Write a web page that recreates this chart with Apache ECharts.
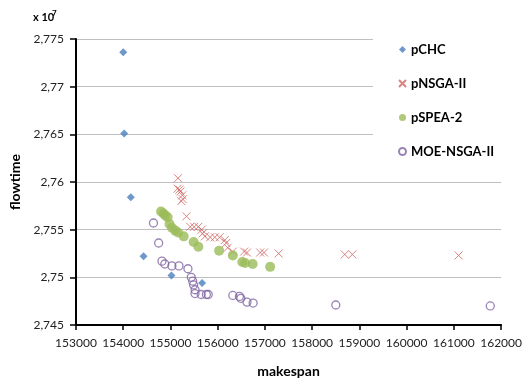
<!DOCTYPE html>
<html>
<head>
<meta charset="utf-8">
<script src="https://cdn.jsdelivr.net/npm/echarts@6/dist/echarts.min.js"></script>
<style>
  html, body { margin: 0; padding: 0; background: #fff; }
  #chart { width: 525px; height: 383px; }
</style>
</head>
<body>
<div id="chart"></div>
<script>
// Flowtime values are stored in thousands (27736 -> 2.7736 x 10^7).
const seriesNames = ['pCHC', 'pNSGA-II', 'pSPEA-2', 'MOE-NSGA-II'];

const pchcMakespan = [154000, 154020, 154160, 154430, 155020, 155670];
const pchcFlowtime = [27736, 27651, 27584, 27522, 27502, 27494];

const pnsgaMakespan = [155160, 155150, 155190, 155210, 155250, 155260, 155230, 155340, 155420, 155500,
                       155590, 155660, 155680, 155730, 155840, 155940, 156040, 156150, 156180, 156210,
                       156320, 156560, 156620, 156900, 156980, 157290, 158690, 158850, 161100];
const pnsgaFlowtime = [27604, 27593, 27592, 27590, 27586, 27582, 27580, 27564, 27553, 27553,
                       27553, 27550, 27546, 27543, 27542, 27542, 27542, 27539, 27536, 27531,
                       27527, 27527, 27526, 27526, 27526, 27525, 27524, 27524, 27523];

const pspeaMakespan = [154800, 154850, 154890, 154940, 154980, 155030, 155100, 155160, 155280, 155490,
                       155590, 156030, 156320, 156520, 156580, 156740, 157110];
const pspeaFlowtime = [27569, 27567, 27565, 27563, 27556, 27552, 27549, 27547, 27543, 27537,
                       27532, 27528, 27523, 27516, 27515, 27514, 27511];

const moeMakespan = [154640, 154750, 154820, 154880, 155030, 155180, 155370, 155440, 155470, 155490,
                     155520, 155520, 155650, 155760, 155800, 156320, 156460, 156490, 156620, 156750,
                     158500, 161770];
const moeFlowtime = [27557, 27536, 27517, 27514, 27512, 27512, 27509, 27500, 27496, 27492,
                     27487, 27483, 27482, 27482, 27482, 27481, 27480, 27478, 27474, 27473,
                     27471, 27470];

const xMin = 153000, xMax = 162000, xStep = 1000;
const yMin = 27450, yMax = 27750, yStep = 50;

function pairs(xs, ys) { return xs.map((x, i) => [x, ys[i]]); }

const FONT = 'Lato, "Open Sans", sans-serif';
const crossPath = 'path://M0,0L10,10M10,0L0,10';

const chart = echarts.init(document.getElementById('chart'), null, { renderer: 'canvas' });

chart.setOption({
  animation: false,
  backgroundColor: '#fff',
  grid: { left: 75, top: 39, width: 434, height: 295 },
  xAxis: {
    type: 'value',
    min: xMin, max: xMax, interval: xStep,
    name: 'makespan',
    nameLocation: 'middle',
    nameGap: 39,
    nameTextStyle: { fontFamily: FONT, fontWeight: 'bold', fontSize: 14, color: '#000' },
    axisLine: { show: true, onZero: false, lineStyle: { color: '#000', width: 2 } },
    axisTick: { show: true, inside: false, length: 5, lineStyle: { color: '#000', width: 1.5 } },
    axisLabel: { formatter: v => String(v), fontFamily: FONT, fontSize: 12, color: '#222', margin: 12 },
    splitLine: { show: false }
  },
  yAxis: {
    type: 'value',
    min: yMin, max: yMax, interval: yStep,
    name: 'flowtime',
    nameLocation: 'middle',
    nameGap: 54,
    nameRotate: 90,
    nameTextStyle: { fontFamily: FONT, fontWeight: 'bold', fontSize: 14, color: '#000' },
    axisLine: { show: true, onZero: false, lineStyle: { color: '#000', width: 2 } },
    axisTick: { show: true, inside: false, length: 6, lineStyle: { color: '#000', width: 1.5 } },
    axisLabel: {
      formatter: v => String(v / 10000).replace('.', ','),
      fontFamily: FONT, fontSize: 12, color: '#222', margin: 12
    },
    splitLine: { show: true, lineStyle: { color: '#BFBFBF', width: 1 } }
  },
  legend: {
    orient: 'vertical',
    left: 373, top: 30,
    backgroundColor: '#fff',
    padding: [13, 20, 14, 25],
    itemGap: 21,
    itemWidth: 7, itemHeight: 7,
    textStyle: { fontFamily: FONT, fontWeight: 'bold', fontSize: 13, color: '#000' },
    data: seriesNames
  },
  graphic: [
    { type: 'text', left: 33, top: 12, style: { text: 'x 10', fontFamily: FONT, fontWeight: 'bold', fontSize: 11, fill: '#000' } },
    { type: 'text', left: 52, top: 9, style: { text: '7', fontFamily: FONT, fontWeight: 'bold', fontSize: 8, fill: '#000' } }
  ],
  series: [
    {
      name: seriesNames[0], type: 'scatter',
      symbol: 'diamond', symbolSize: 8,
      itemStyle: { color: '#4A7EBB' },
      data: pairs(pchcMakespan, pchcFlowtime)
    },
    {
      name: seriesNames[1], type: 'scatter',
      symbol: crossPath, symbolSize: 8,
      itemStyle: { color: 'rgba(0,0,0,0)', borderColor: '#D06562', borderWidth: 1 },
      data: pairs(pnsgaMakespan, pnsgaFlowtime)
    },
    {
      name: seriesNames[2], type: 'scatter',
      symbol: 'circle', symbolSize: 10,
      itemStyle: { color: '#9BBB59' },
      data: pairs(pspeaMakespan, pspeaFlowtime)
    },
    {
      name: seriesNames[3], type: 'scatter',
      symbol: 'circle', symbolSize: 8,
      itemStyle: { color: 'rgba(0,0,0,0)', borderColor: '#8064A2', borderWidth: 1.3 },
      data: pairs(moeMakespan, moeFlowtime)
    }
  ]
});
</script>
</body>
</html>
